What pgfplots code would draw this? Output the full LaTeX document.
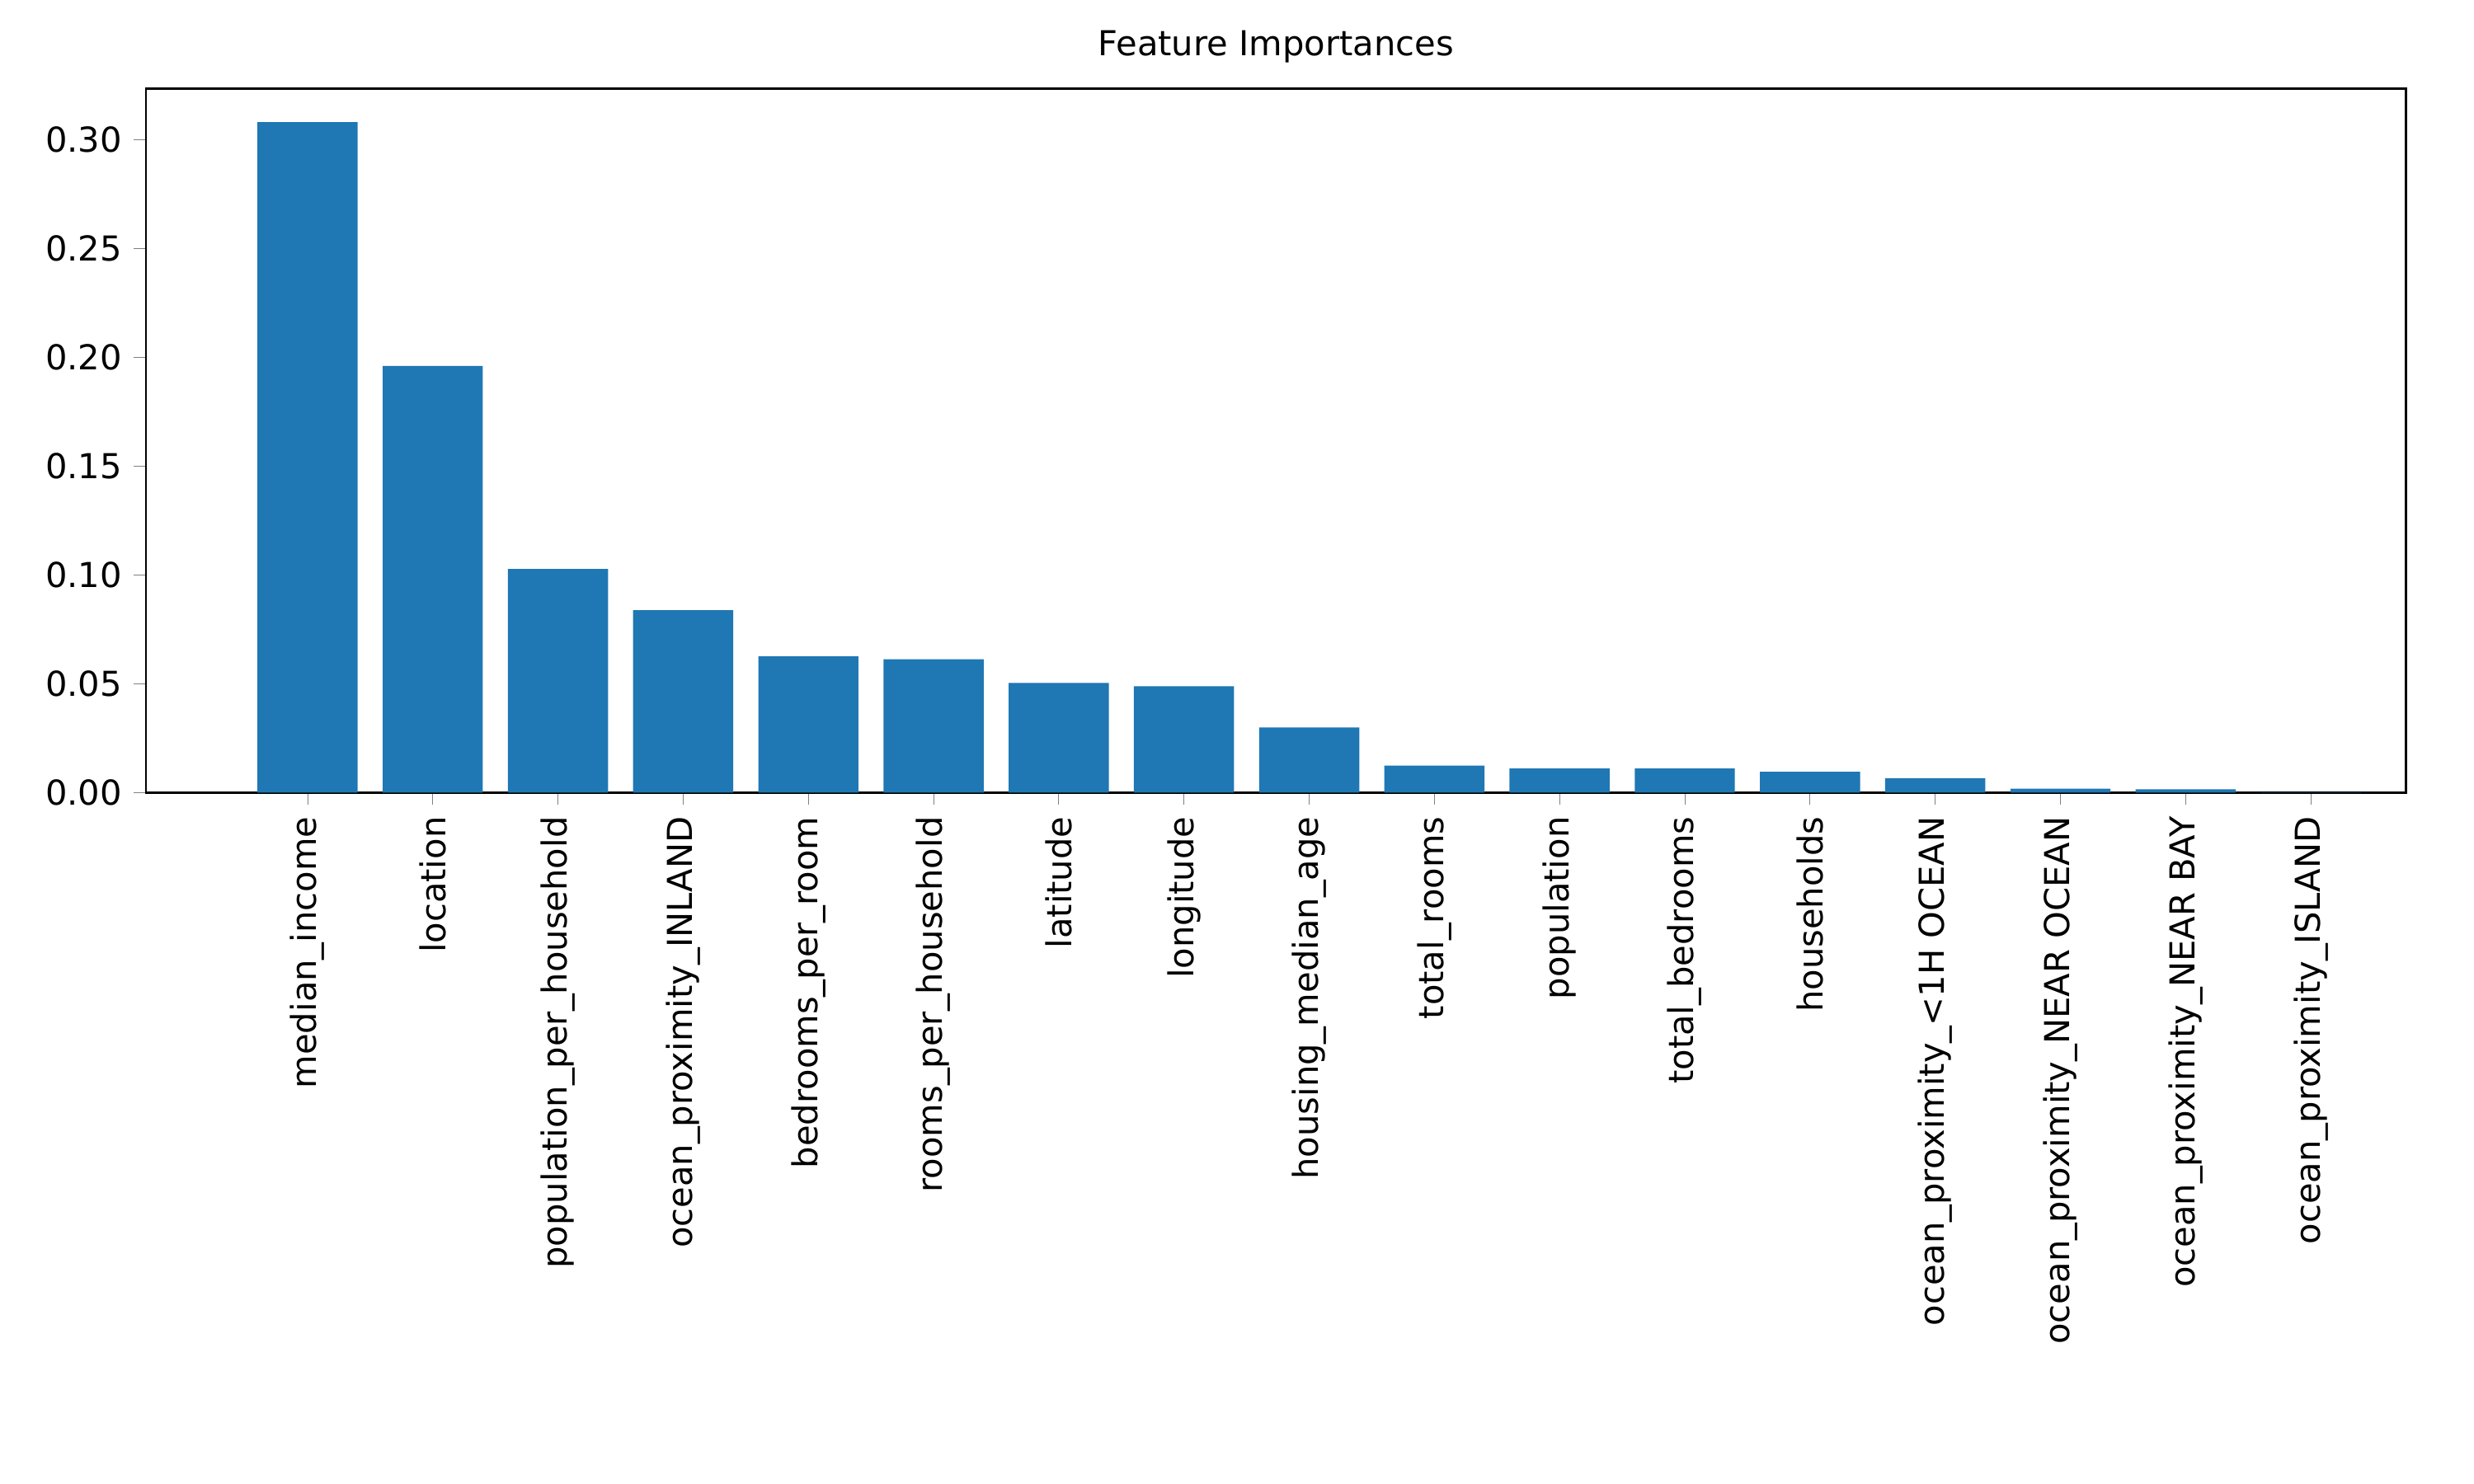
\documentclass[border=0pt]{standalone}
\usepackage{pgfplots}
\pgfplotsset{compat=1.18}
\usepackage{fontspec}
\setmainfont{DejaVu Sans}
\usetikzlibrary{calc}
\definecolor{mplblue}{HTML}{1F77B4}
\begin{document}
\begin{tikzpicture}
\begin{axis}[name=ax, at={(0,0)}, anchor=south west,
  width=657.7pt, height=204.9pt, scale only axis,
  xmin=-1.29, xmax=16.76, ymin=0, ymax=0.3234,
  xtick={0,...,16},
  xticklabels={median\_income,location,population\_per\_household,ocean\_proximity\_INLAND,bedrooms\_per\_room,rooms\_per\_household,latitude,longitude,housing\_median\_age,total\_rooms,population,total\_bedrooms,households,ocean\_proximity\_<1H OCEAN,ocean\_proximity\_NEAR OCEAN,ocean\_proximity\_NEAR BAY,ocean\_proximity\_ISLAND},
  xticklabel style={rotate=90, anchor=east, font=\fontsize{10}{12}\selectfont},
  yticklabel style={font=\fontsize{10}{12}\selectfont, /pgf/number format/fixed, /pgf/number format/fixed zerofill, /pgf/number format/precision=2},
  /pgf/number format/assume math mode=true,
  ytick={0,0.05,0.1,0.15,0.2,0.25,0.3},
  scaled y ticks=false,
  tick align=outside, tick pos=left,
  major tick length=3.5pt,
  title={Feature Importances}, title style={font=\fontsize{10}{12}\selectfont, yshift=-2pt},
  axis line style={line width=0.6pt},
]
\addplot[ybar, bar width=0.8, fill=mplblue, draw=none] coordinates {
(0,0.308) (1,0.196) (2,0.1027) (3,0.0838) (4,0.0626) (5,0.0612) (6,0.0503) (7,0.0488) (8,0.0299) (9,0.0124) (10,0.011) (11,0.011) (12,0.0095) (13,0.0066) (14,0.0018) (15,0.0015) (16,0.0001)};
\end{axis}
\useasboundingbox ($(ax.south west)+(-42.5pt,-201.2pt)$) rectangle ($(ax.north east)+(19.8pt,25.8pt)$);
\end{tikzpicture}
\end{document}
